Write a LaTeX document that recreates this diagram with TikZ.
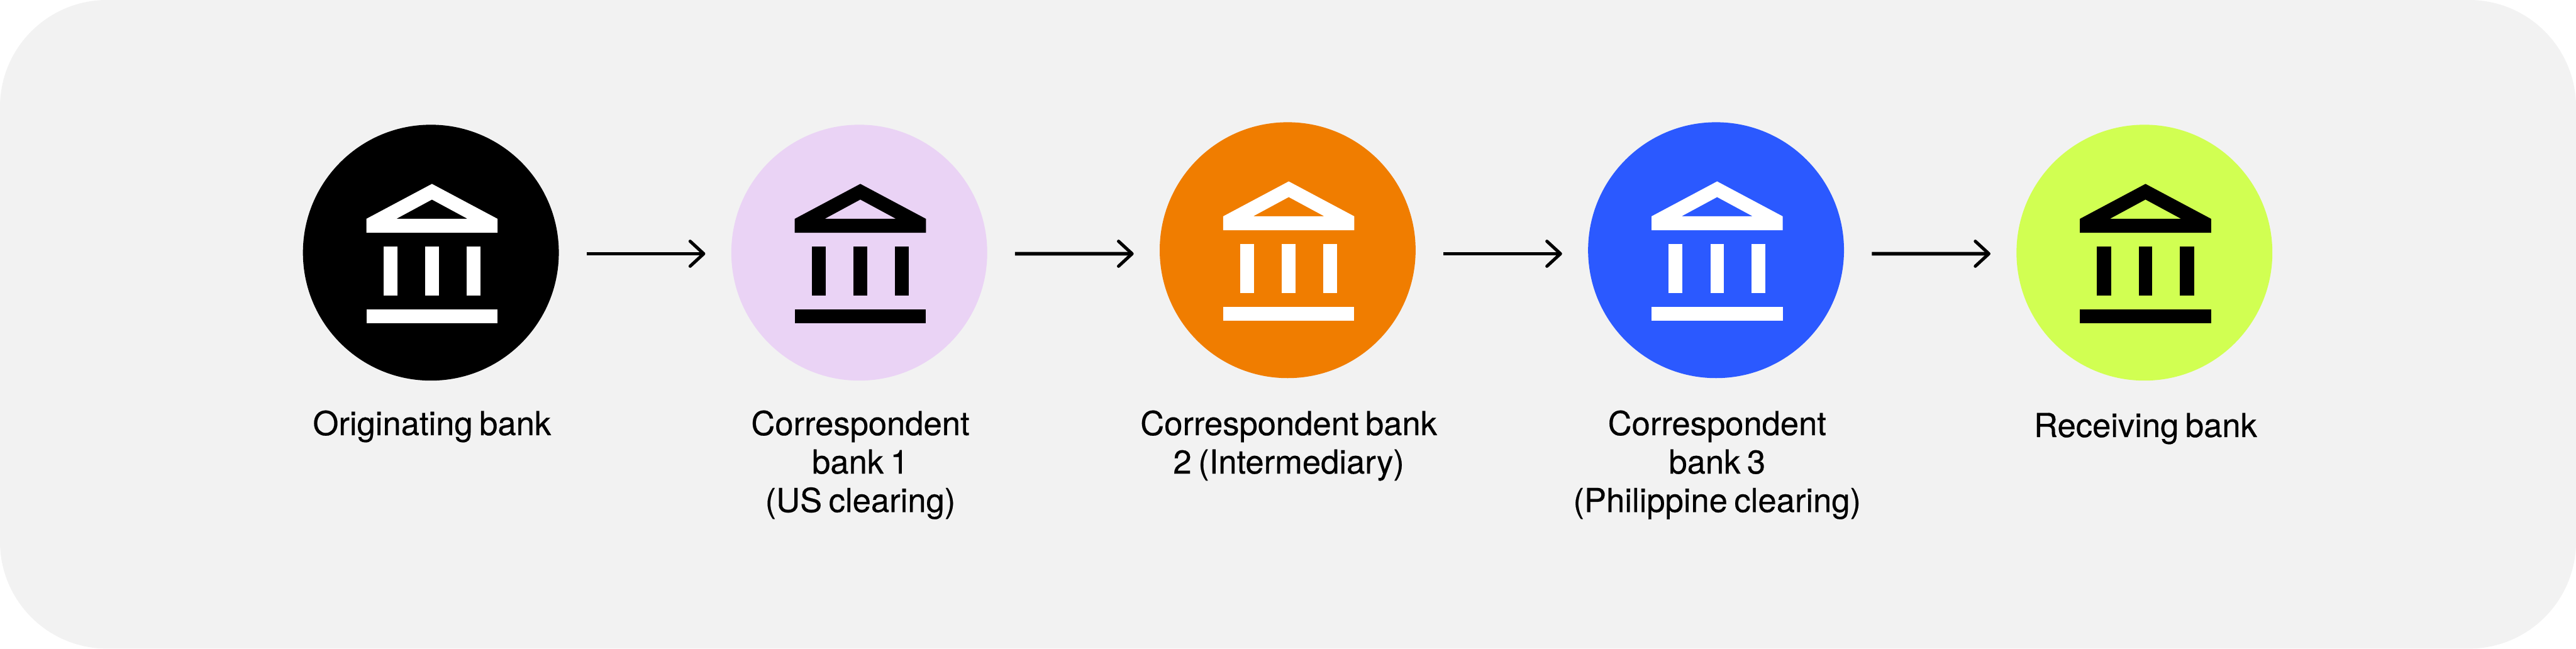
\documentclass[tikz,border=0pt]{standalone}
\usepackage{fontspec}
\setmainfont[WordSpace=0.72, FakeBold=0.4]{TeX Gyre Heros}
\usetikzlibrary{arrows.meta}
\definecolor{panelGray}{HTML}{F2F2F2}
\definecolor{lilac}{HTML}{EAD3F5}
\definecolor{bankOrange}{HTML}{F07D00}
\definecolor{bankBlue}{HTML}{2B59FF}
\definecolor{lime}{HTML}{D1FF52}
\tikzset{
  bank/.style={circle, minimum size=7.18cm, inner sep=0pt, outer sep=0pt},
  bankLabel/.style={anchor=north, align=center, inner sep=0pt, font=\fontsize{26.4pt}{30.7pt}\selectfont},
  flow/.style={line width=0.1cm, -{Straight Barb[length=0.38cm, width=0.7cm, line width=0.09cm, round]}, shorten <=0.78cm, shorten >=0.73cm}
}
% #1 x, #2 y of the icon, #3 colour
\newcommand{\bankIcon}[3]{
  \begin{scope}[shift={(#1,#2)}]
    \fill[#3, even odd rule] (0,1.93) -- (1.84,0.95) -- (1.84,0.56) -- (-1.84,0.56) -- (-1.84,0.95) -- cycle
      (0,1.49) -- (1,0.95) -- (-1,0.95) -- cycle;
    \fill[#3] (-1.36,0.17) rectangle (-0.97,-1.20);
    \fill[#3] (-0.19,0.17) rectangle (0.19,-1.20);
    \fill[#3] (0.97,0.17) rectangle (1.36,-1.20);
    \fill[#3] (-1.84,-1.59) rectangle (1.84,-1.98);
  \end{scope}
}

\begin{document}
\begin{tikzpicture}
  \useasboundingbox (0,0) rectangle (72.28,18.20);
  \fill[panelGray, rounded corners=3cm] (0,0) rectangle (72.28,18.20);

  \node [bank, fill=black] (originating) at (12.09,11.11) {};
  \node [bank, fill=lilac] (corrOne) at (24.11,11.11) {};
  \node [bank, fill=bankOrange] (corrTwo) at (36.13,11.18) {};
  \node [bank, fill=bankBlue] (corrThree) at (48.15,11.18) {};
  \node [bank, fill=lime] (receiving) at (60.17,11.11) {};

  \bankIcon{12.12}{11.11}{white}
  \bankIcon{24.14}{11.11}{black}
  \bankIcon{36.16}{11.18}{white}
  \bankIcon{48.18}{11.18}{white}
  \bankIcon{60.20}{11.11}{black}

  \node [bankLabel] (originatingText) at (12.12,6.69) {Originating bank};
  \node [bankLabel] (corrOneText) at (24.14,6.69) {Correspondent\\bank 1\\(US clearing)};
  \node [bankLabel] (corrTwoText) at (36.16,6.69) {Correspondent bank\\2 (Intermediary)};
  \node [bankLabel] (corrThreeText) at (48.18,6.69) {Correspondent\\bank 3\\(Philippine clearing)};
  \node [bankLabel] (receivingText) at (60.20,6.62) {Receiving bank};

  \draw [flow] ([yshift=-0.03cm]originating.east) -- ([yshift=-0.03cm]corrOne.west);
  \draw [flow] ([yshift=-0.03cm]corrOne.east) -- ([yshift=-0.10cm]corrTwo.west);
  \draw [flow] ([yshift=-0.10cm]corrTwo.east) -- ([yshift=-0.10cm]corrThree.west);
  \draw [flow] ([yshift=-0.10cm]corrThree.east) -- ([yshift=-0.03cm]receiving.west);
\end{tikzpicture}
\end{document}
